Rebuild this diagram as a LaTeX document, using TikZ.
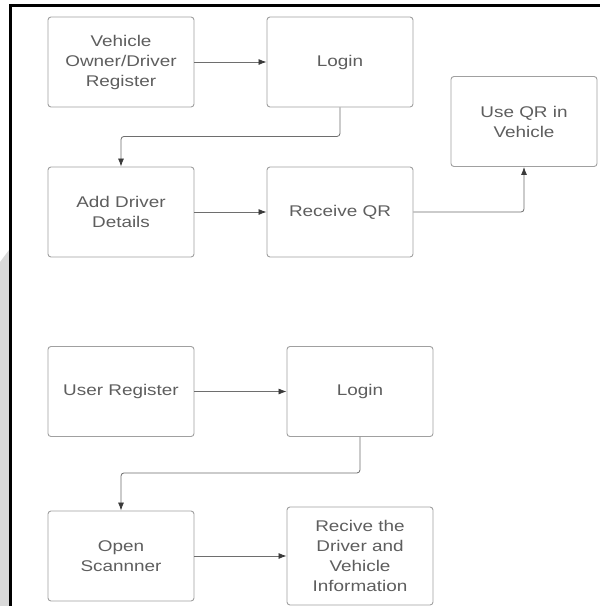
\documentclass[tikz,border=0pt]{standalone}
\usepackage{fontspec}
\setmainfont[FakeStretch=1.22]{Liberation Sans}
\usepackage{xcolor}
\usepackage{tikz}
\usetikzlibrary{arrows.meta,positioning}
\definecolor{qrframe}{HTML}{000000}
\definecolor{qrstrip}{HTML}{D9D9D9}
\definecolor{qrline}{HTML}{A0A0A0}
\definecolor{qrtext}{HTML}{5E5E5E}
\definecolor{qrarrow}{HTML}{6E6E6E}
\definecolor{qrtip}{HTML}{3A3A3A}
\tikzset{
  box/.style={rounded corners=3pt,draw=qrline,fill=white,line width=0.9pt,align=center,
    minimum width=146pt,minimum height=90pt,inner sep=2pt,text=qrtext,
    font=\fontsize{15.5pt}{20pt}\selectfont},
  tallbox/.style={box,minimum height=98pt},
  ar/.style={-{Latex[length=8pt,width=6pt,color=qrtip]},draw=qrarrow,line width=0.8pt},
  arel/.style={ar,rounded corners=3pt},
}

\begin{document}
\begin{tikzpicture}[x=1pt,y=-1pt]
  \useasboundingbox (0,0) rectangle (600,606);
  \fill[white] (0,0) rectangle (600,606);
  % page edge and frame
  \fill[qrstrip] (0,262) -- (9,250) -- (9,606) -- (0,606) -- cycle;
  \draw[qrframe,line width=3pt] (10.5,606) -- (10.5,5.5) -- (600,5.5);

  % owner flow
  \node[box] (vreg)   at (121,62)    {Vehicle\\Owner/Driver\\Register};
  \node[box] (login1) at (340,62)    {Login};
  \node[box] (useqr)  at (524,121.5) {Use QR in\\Vehicle};
  \node[box] (adddrv) at (121,212)   {Add Driver\\Details};
  \node[box] (recvqr) at (340,212)   {Receive QR};

  \draw[ar] (vreg) -- (login1);
  \draw[arel] (login1.south) -- ++(0,29) -| (adddrv.north);
  \draw[ar] (adddrv) -- (recvqr);
  \draw[arel] (recvqr.east) -| (useqr.south);

  % user flow
  \node[box] (ureg)    at (121,391.5) {User Register};
  \node[box] (login2)  at (360,391.5) {Login};
  \node[box] (opensc)  at (121,556)   {Open\\Scannner};
  \node[tallbox] (recinfo) at (360,556) {Recive the\\Driver and\\Vehicle\\Information};

  \draw[ar] (ureg) -- (login2);
  \draw[arel] (login2.south) -- ++(0,36) -| (opensc.north);
  \draw[ar] (opensc) -- (recinfo);
\end{tikzpicture}
\end{document}
